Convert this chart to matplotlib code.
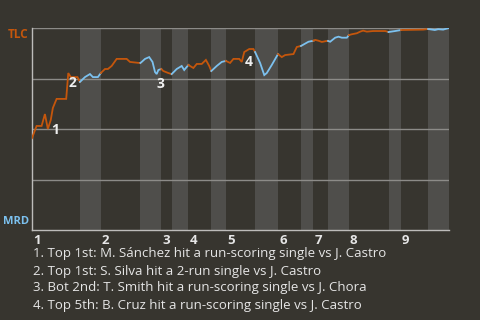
import matplotlib
matplotlib.use("Agg")
import matplotlib.pyplot as plt
import matplotlib.transforms as mtransforms

plt.rcParams['font.family'] = ['Open Sans', 'DejaVu Sans']

# win probability for TLC (away), by play number
plays = [0, 1.1, 2.3, 3.1, 3.8, 4.5, 5.0, 5.9, 8.2, 8.7, 9.3, 10.9, 11.5,
         12.7, 13.9, 14.6, 15.8, 16.5,
         17.5, 18.2, 19.1, 20.3, 22.7, 23.5, 25.7, 26,
         26.3, 27.1, 28.1, 28.9, 29.5, 29.9, 30.3, 31,
         31.5, 32.7, 33.5,
         34.7, 35.9, 36.5, 37.5,
         38.7, 39.5, 40.7, 41.7, 42.5, 43,
         44.3, 45.5, 46.5,
         47.5, 48.3, 49.7, 50.3, 50.9, 52.1, 53.1, 53.5,
         54.7, 55.7, 56.3, 57.5, 59,
         59.9, 60.7, 62.7, 63.5, 64.5,
         66.3, 67.5,
         67.9, 68.7, 69.5, 70.7, 71,
         71.5, 72.7, 73.5, 74.3, 75.5, 76,
         76.7, 77.9, 78.7, 79.4, 80.3, 81.8, 84.7, 85.5,
         87.1, 88.5,
         93.8, 95,
         96.6, 97.4, 98.6, 99.8, 100]
win_prob = [45.5, 51.5, 51.5, 57.4, 50.0, 54.5, 60.4, 64.9, 64.9, 77.7, 75.7, 75.7, 73.3,
            75.7, 77.2, 75.7, 75.7, 77.7,
            79.7, 79.7, 81.2, 84.7, 84.7, 83.2, 82.7, 82.7,
            83.2, 84.7, 85.6, 83.2, 78.2, 77.2, 79.2, 79.7,
            78.7, 77.7, 77.2,
            79.7, 81.2, 79.2, 81.7,
            80.2, 82.2, 82.2, 84.2, 81.2, 78.7,
            81.2, 83.2, 83.7,
            82.7, 84.7, 84.7, 83.2, 88.1, 89.6, 89.6, 88.1,
            82.7, 76.7, 77.7, 81.7, 87.1,
            85.6, 86.6, 87.1, 90.6, 91.1,
            93.2, 93.7,
            94.1, 93.7, 93.1, 93.6, 93.6,
            93.2, 95.2, 95.7, 95.2, 95.2, 96.5,
            96.9, 97.4, 98.2, 98.7, 98.2, 98.5, 98.5, 98.0,
            98.5, 99.0,
            99.2, 99.5,
            99.0, 99.4, 99.2, 99.9, 100]

# half-inning boundaries (play number)
half_innings = [0, 11.5, 16.5, 26, 31, 33.5, 37.5, 43, 46.5, 53.5, 59,
                64.5, 67.5, 71, 76, 85.5, 88.5, 95, 100]
inning_labels = ['1', '2', '3', '4', '5', '6', '7', '8', '9']

# key events: (play, win prob, label)
events_x = [4.5, 8.7, 29.9, 50.9]
events_y = [54.5, 77.7, 77.2, 88.1]
events_lbl = ['1', '2', '3', '4']

notes = [
    "1. Top 1st: M. Sánchez hit a run-scoring single vs J. Castro",
    "2. Top 1st: S. Silva hit a 2-run single vs J. Castro",
    "3. Bot 2nd: T. Smith hit a run-scoring single vs J. Chora",
    "4. Top 5th: B. Cruz hit a run-scoring single vs J. Castro",
]

BG = '#37352f'
BAND = '#4f4e4b'
ORANGE = '#c4560c'
BLUE = '#7cc1ef'

fig = plt.figure(figsize=(4.8, 3.2), dpi=100, facecolor=BG)
ax = fig.add_axes([32 / 480, 90 / 320, 417 / 480, 202 / 320])
ax.set_facecolor(BG)
ax.set_xlim(0, 100)
ax.set_ylim(0, 100)

for i in range(len(half_innings) - 1):
    a, b = half_innings[i], half_innings[i + 1]
    if i % 2 == 1:
        ax.axvspan(a, b, color=BAND, lw=0, zorder=0)
    xs = [x for x in plays if a <= x <= b]
    ys = [y for x, y in zip(plays, win_prob) if a <= x <= b]
    ax.plot(xs, ys, color=ORANGE if i % 2 == 0 else BLUE, lw=1.3,
            solid_joinstyle='miter', zorder=3)

for g in [25, 50, 75, 100]:
    ax.axhline(g, color='#8c8b88', lw=1, zorder=1)

for s in ['top', 'right']:
    ax.spines[s].set_visible(False)
for s in ['left', 'bottom']:
    ax.spines[s].set_color('#bdbcba')
    ax.spines[s].set_linewidth(1)
ax.set_xticks([])
ax.set_yticks([])

for x, y, t in zip(events_x, events_y, events_lbl):
    ax.annotate(t, (x, y), xytext=(4, -10), textcoords='offset pixels',
                ha='center', va='center', color='#eeeeee', fontsize=10,
                fontweight='bold', zorder=4)

trans = mtransforms.blended_transform_factory(ax.transData, ax.transAxes)
off = mtransforms.offset_copy(trans, fig=fig, x=1, y=-10, units='dots')
for k, lbl in enumerate(inning_labels):
    ax.text(half_innings[2 * k], 0, lbl, transform=off, ha='left', va='center',
            color='#e6e6e6', fontsize=9.5, fontweight='bold')

fig.text(28 / 480, 1 - 35 / 320, 'TLC', ha='right', va='center', color=ORANGE,
         fontsize=8.5, fontweight='bold')
fig.text(29 / 480, 1 - 221 / 320, 'MRD', ha='right', va='center', color=BLUE,
         fontsize=8, fontweight='bold')

for k, n in enumerate(notes):
    fig.text(33 / 480, 1 - (254 + 17 * k) / 320, n, ha='left', va='center',
             color='#e6e6e6', fontsize=9.5)

fig.savefig('out.png', dpi=100, facecolor=BG)
